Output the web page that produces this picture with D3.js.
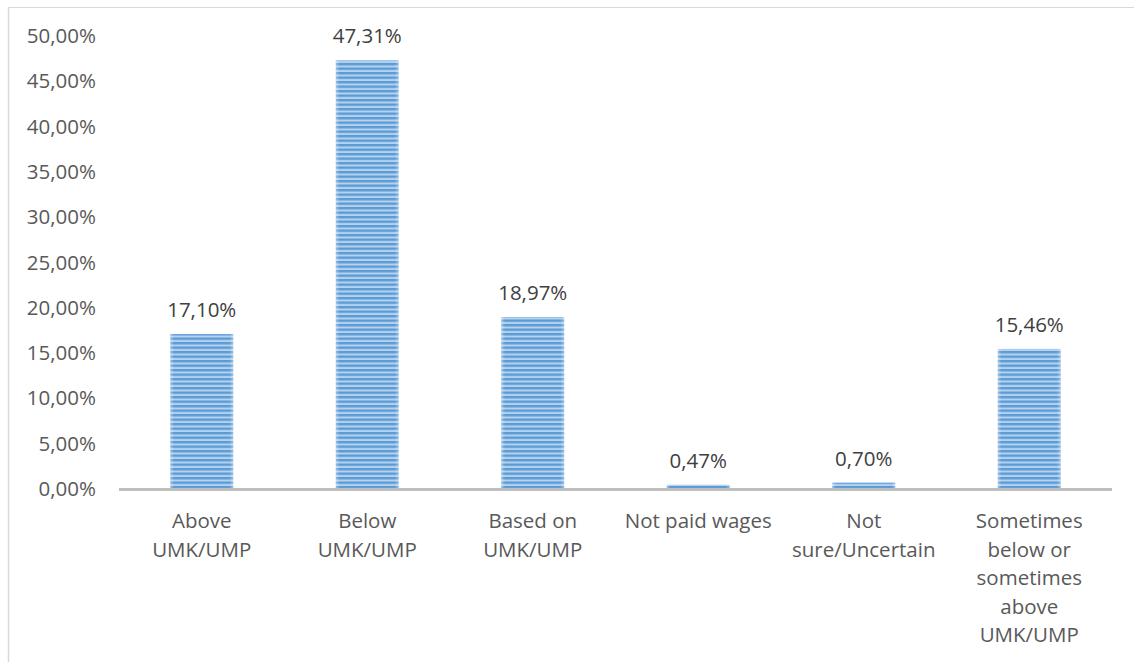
<!DOCTYPE html>
<html>
<head>
<meta charset="utf-8">
<script src="https://cdn.jsdelivr.net/npm/d3@7"></script>
<style>
  html, body { margin: 0; padding: 0; background: #fff; }
  svg { display: block; }
  text { font-family: "Open Sans", sans-serif; }
</style>
</head>
<body>
<svg id="chart" width="1134" height="662"></svg>
<script>
// Wage level relative to regional minimum wage (UMK/UMP), share of respondents
const categories = [
  ["Above", "UMK/UMP"],
  ["Below", "UMK/UMP"],
  ["Based on", "UMK/UMP"],
  ["Not paid wages"],
  ["Not", "sure/Uncertain"],
  ["Sometimes", "below or", "sometimes", "above", "UMK/UMP"]
];
const values = [17.10, 47.31, 18.97, 0.47, 0.70, 15.46];
const yTicks = [0, 5, 10, 15, 20, 25, 30, 35, 40, 45, 50];

const fmt = v => v.toFixed(2).replace(".", ",") + "%";

const W = 1134, H = 662;
const plot = { left: 119, right: 1112, top: 36, bottom: 489 };
const fontSize = 20.5;

const svg = d3.select("#chart");

// Chart-area frame (top and left edges visible)
svg.append("line").attr("x1", 8).attr("x2", W).attr("y1", 7.5).attr("y2", 7.5)
  .attr("stroke", "#d9d9d9").attr("stroke-width", 1);
svg.append("line").attr("x1", 8.5).attr("x2", 8.5).attr("y1", 7).attr("y2", H)
  .attr("stroke", "#d9d9d9").attr("stroke-width", 1.5);

// Horizontal stripe fill for the bars
const defs = svg.append("defs");
const pat = defs.append("pattern").attr("id", "stripes")
  .attr("patternUnits", "userSpaceOnUse").attr("width", 10).attr("height", 4.5);
pat.append("rect").attr("width", 10).attr("height", 4.5).attr("fill", "#b4d1ee");
pat.append("rect").attr("width", 10).attr("height", 2.4).attr("fill", "#5b9bd5");

const edge = defs.append("linearGradient").attr("id", "edgeFade")
  .attr("x1", 0).attr("x2", 1).attr("y1", 0).attr("y2", 0);
edge.append("stop").attr("offset", "0%").attr("stop-color", "#fff").attr("stop-opacity", 0.35);
edge.append("stop").attr("offset", "6%").attr("stop-color", "#fff").attr("stop-opacity", 0);
edge.append("stop").attr("offset", "94%").attr("stop-color", "#fff").attr("stop-opacity", 0);
edge.append("stop").attr("offset", "100%").attr("stop-color", "#fff").attr("stop-opacity", 0.35);

const x = d3.scaleBand()
  .domain(d3.range(categories.length))
  .range([plot.left, plot.right])
  .paddingInner(0.62).paddingOuter(0.31);

const y = d3.scaleLinear().domain([0, 50]).range([plot.bottom, plot.top]);

// Y axis labels (no axis line, no gridlines)
const yAxis = d3.axisLeft(y).tickValues(yTicks).tickFormat(d => fmt(d)).tickSize(0).tickPadding(0);
const yg = svg.append("g").attr("transform", `translate(96,0)`).call(yAxis);
yg.select(".domain").remove();
yg.selectAll("text").attr("font-size", fontSize).attr("fill", "#595959")
  .attr("font-family", "'Open Sans', sans-serif");

// Bars
const bars = svg.append("g");
bars.selectAll("rect.bar").data(values).join("rect")
  .attr("class", "bar")
  .attr("x", (d, i) => x(i))
  .attr("width", x.bandwidth())
  .attr("y", d => y(d))
  .attr("height", d => y(0) - y(d))
  .attr("fill", "url(#stripes)");
bars.selectAll("rect.fade").data(values).join("rect")
  .attr("class", "fade")
  .attr("x", (d, i) => x(i))
  .attr("width", x.bandwidth())
  .attr("y", d => y(d))
  .attr("height", d => y(0) - y(d))
  .attr("fill", "url(#edgeFade)");

// X axis baseline
svg.append("line").attr("x1", plot.left).attr("x2", plot.right)
  .attr("y1", y(0) + 0.5).attr("y2", y(0) + 0.5)
  .attr("stroke", "#bfbfbf").attr("stroke-width", 3);

// Value labels
svg.append("g").selectAll("text").data(values).join("text")
  .attr("x", (d, i) => x(i) + x.bandwidth() / 2)
  .attr("y", d => y(d) - 17)
  .attr("text-anchor", "middle")
  .attr("font-size", fontSize)
  .attr("fill", "#404040")
  .text(d => fmt(d));

// Category labels
const cat = svg.append("g").selectAll("text").data(categories).join("text")
  .attr("x", (d, i) => x(i) + x.bandwidth() / 2)
  .attr("y", 528)
  .attr("text-anchor", "middle")
  .attr("font-size", fontSize)
  .attr("fill", "#595959");
cat.selectAll("tspan").data(d => d).join("tspan")
  .attr("x", function () { return d3.select(this.parentNode).attr("x"); })
  .attr("dy", (d, i) => i === 0 ? 0 : 28.5)
  .text(d => d);
</script>
</body>
</html>
